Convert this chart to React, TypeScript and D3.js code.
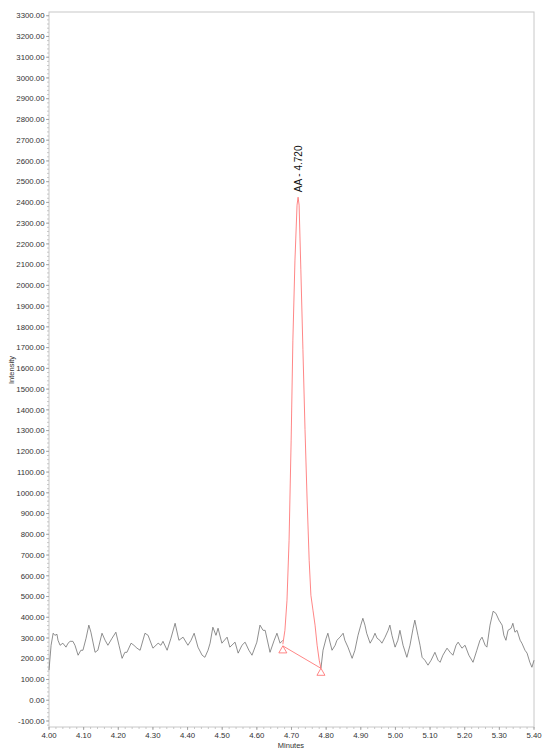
import React from "react";
import * as d3 from "d3";

const baseTimesA = [4.0,4.006,4.012,4.017,4.023,4.026,4.032,4.04,4.049,4.055,4.061,4.069,4.075,4.084,4.092,4.098,4.107,4.115,4.121,4.133,4.141,4.153,4.162,4.17,4.182,4.193,4.202,4.211,4.219,4.225,4.237,4.245,4.254,4.263,4.277,4.286,4.3,4.315,4.323,4.329,4.341,4.352,4.364,4.375,4.387,4.401,4.41,4.419,4.43,4.442,4.45,4.459,4.465,4.473,4.482,4.488,4.499,4.514,4.522,4.537,4.546,4.557,4.566,4.577,4.586,4.6,4.609,4.618,4.624,4.638,4.65,4.658,4.667,4.675];
const baseValuesA = [145,265,323,313,318,289,265,275,256,275,284,284,265,217,241,241,299,362,328,231,241,323,289,265,299,328,265,202,231,231,275,265,251,241,323,313,251,275,265,284,241,299,371,289,304,265,289,323,256,217,207,241,275,352,313,347,275,304,256,280,227,265,280,241,217,280,362,337,337,231,289,323,275,289];

const peakTimes = [4.675,4.681,4.687,4.693,4.699,4.704,4.71,4.716,4.719,4.722,4.727,4.733,4.739,4.745,4.751,4.756,4.762,4.768,4.774,4.78,4.785];
const peakValues = [270,337,482,771,1254,1736,2122,2387,2425,2387,2075,1690,1306,970,675,506,434,362,265,193,154];

const baseTimesB = [4.785,4.791,4.8,4.805,4.811,4.817,4.826,4.831,4.84,4.849,4.854,4.863,4.875,4.883,4.892,4.9,4.906,4.912,4.917,4.927,4.935,4.941,4.947,4.955,4.961,4.97,4.979,4.984,4.99,4.999,5.007,5.013,5.022,5.033,5.042,5.051,5.056,5.065,5.071,5.077,5.085,5.094,5.103,5.114,5.123,5.129,5.137,5.149,5.158,5.166,5.175,5.181,5.192,5.201,5.212,5.224,5.235,5.244,5.25,5.259,5.264,5.273,5.282,5.29,5.299,5.308,5.313,5.319,5.325,5.334,5.339,5.345,5.351,5.36,5.365,5.374,5.38,5.388,5.394,5.4];
const baseValuesB = [154,241,299,323,280,241,265,289,304,323,289,256,202,241,313,362,395,362,323,275,299,323,299,289,275,304,337,362,313,256,289,337,265,207,265,347,386,313,265,207,193,169,193,231,193,183,217,251,231,217,265,280,251,265,217,183,241,289,304,265,256,362,429,419,386,362,313,289,337,347,371,328,337,289,275,241,227,183,159,193];

const baselineTimes = [4.675, 4.785];
const baselineValues = [262, 154];

const yTicks = d3.range(-100, 3301, 100);
const yMinor = d3.range(-120, 3320, 20);
const xTicks = d3.range(0, 15).map((i) => 4 + i * 0.1);
const xMinor = d3.range(0, 71).map((i) => 4 + i * 0.02);

const peakLabel = "AA - 4.720";
const peakTime = 4.719;
const peakValue = 2425;

export default function App() {
  const x = d3.scaleLinear().domain([4.0, 5.4]).range([49, 534]);
  const y = d3.scaleLinear().domain([-129, 3318]).range([727, 12]);
  const line = d3
    .line<[number, number]>()
    .x((d) => x(d[0]))
    .y((d) => y(d[1]));
  const zip = (a: number[], b: number[]) => a.map((t, i) => [t, b[i]] as [number, number]);
  const font = "Liberation Sans, Arial, sans-serif";
  const tri = (t: number, v: number) => {
    const cx = x(t), cy = y(v);
    return `M${cx},${cy} L${cx - 4},${cy + 7} L${cx + 4},${cy + 7} Z`;
  };
  return (
    <svg width={550} height={756} style={{ position: "absolute", left: 0, top: 0, background: "#fff" }}>
      <rect x={49} y={12} width={485} height={715} fill="none" stroke="#c8c8c8" strokeWidth={1} />
      {yMinor.map((v) => (
        <line key={"ym" + v} x1={47} x2={49} y1={y(v)} y2={y(v)} stroke="#bbb" strokeWidth={0.8} />
      ))}
      {yTicks.map((v) => (
        <g key={"y" + v}>
          <line x1={46} x2={49} y1={y(v)} y2={y(v)} stroke="#999" strokeWidth={0.8} />
          <text x={44.5} y={y(v)} dy="0.35em" textAnchor="end" fontSize={7.8} fill="#333" fontFamily={font}>
            {v.toFixed(2)}
          </text>
        </g>
      ))}
      {xMinor.map((t, i) => (
        <line key={"xm" + i} x1={x(t)} x2={x(t)} y1={727} y2={729} stroke="#bbb" strokeWidth={0.8} />
      ))}
      {xTicks.map((t, i) => (
        <g key={"x" + i}>
          <line x1={x(t)} x2={x(t)} y1={727} y2={730} stroke="#999" strokeWidth={0.8} />
          <text x={x(t)} y={738} textAnchor="middle" fontSize={7.8} fill="#333" fontFamily={font}>
            {t.toFixed(2)}
          </text>
        </g>
      ))}
      <text x={291} y={748} textAnchor="middle" fontSize={7.5} fill="#333" fontFamily={font}>
        Minutes
      </text>
      <text transform="translate(14,370) rotate(-90)" textAnchor="middle" fontSize={7.5} fill="#333" fontFamily={font}>
        Intensity
      </text>
      <path d={line(zip(baseTimesA, baseValuesA)) || ""} fill="none" stroke="#6a6a6a" strokeWidth={0.75} />
      <path d={line(zip(baseTimesB, baseValuesB)) || ""} fill="none" stroke="#6a6a6a" strokeWidth={0.75} />
      <path d={line(zip(peakTimes, peakValues)) || ""} fill="none" stroke="#ff7070" strokeWidth={0.85} />
      <path d={line(zip(baselineTimes, baselineValues)) || ""} fill="none" stroke="#ff7070" strokeWidth={0.85} />
      <path d={tri(baselineTimes[0], baselineValues[0])} fill="none" stroke="#ff7070" strokeWidth={0.85} />
      <path d={tri(baselineTimes[1], baselineValues[1])} fill="none" stroke="#ff7070" strokeWidth={0.85} />
      <text
        transform={`translate(${x(peakTime) + 3.5},${y(peakValue) - 5}) rotate(-90)`}
        textAnchor="start"
        fontSize={10}
        fill="#111"
        fontFamily={font}
      >
        {peakLabel}
      </text>
    </svg>
  );
}
